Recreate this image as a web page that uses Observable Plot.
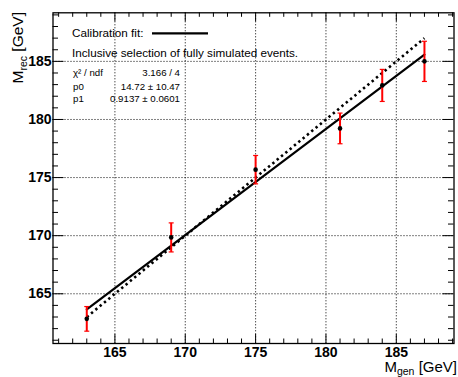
<!DOCTYPE html>
<html><head><meta charset="utf-8">
<script src="https://cdn.jsdelivr.net/npm/d3@7"></script>
<script src="https://cdn.jsdelivr.net/npm/@observablehq/plot@0.6"></script>
<style>body{margin:0;background:#fff} svg{display:block}</style>
</head><body><div id="chart"></div>
<script>
// Data
const mGen = [163, 169, 175, 181, 184, 187];
const mRec = [162.84, 169.85, 175.68, 179.23, 182.93, 185.0];
const mErr = [1.06, 1.25, 1.22, 1.32, 1.38, 1.73];
const fitP0 = 14.72, fitP1 = 0.9137;
const fitRange = [163, 187];
const majorTicks = [165, 170, 175, 180, 185];
const minorTicksX = [161,162,163,164,166,167,168,169,171,172,173,174,176,177,178,179,181,182,183,184,186,187,188,189];
const minorTicksY = [161,162,163,164,166,167,168,169,171,172,173,174,176,177,178,179,181,182,183,184,186,187,188,189];
const statNames = ["\u03c7\u00b2 / ndf", "p0", "p1"];
const statValues = ["3.166 / 4", "14.72 \u00b1 10.47", "0.9137 \u00b1 0.0601"];
const legendLabel = "Calibration fit:";
const legendNote = "Inclusive selection of fully simulated events.";

const points = mGen.map((x, i) => ({x, y: mRec[i], lo: mRec[i] - mErr[i], hi: mRec[i] + mErr[i]}));
const fitLine = fitRange.map(x => ({x, y: fitP0 + fitP1 * x}));
const idealLine = fitRange.map(x => ({x, y: x}));

const W = 458, H = 377, mL = 52.5, mR = 4.5, mT = 12.3, mB = 34;
const pw = W - mL - mR, ph = H - mT - mB;
const font = "'Liberation Sans', Arial, Helvetica, sans-serif";

const capSymbol = {draw(ctx) { ctx.moveTo(-2.5, 0); ctx.lineTo(2.5, 0); }};

const chart = Plot.plot({
  width: W, height: H,
  marginLeft: mL, marginRight: mR, marginTop: mT, marginBottom: mB,
  style: {fontFamily: font, background: "#fff", color: "#000"},
  x: {domain: [160.6, 189.1]},
  y: {domain: [160.72, 189.18]},
  marks: [
    Plot.gridX(majorTicks, {stroke: "#000", strokeOpacity: 1, strokeDasharray: "1,2", strokeWidth: 1}),
    Plot.gridY(majorTicks, {stroke: "#000", strokeOpacity: 1, strokeDasharray: "1,2", strokeWidth: 1}),
    // ticks inside the frame
    Plot.tickX(minorTicksX, {x: d => d, stroke: "#000", insetTop: ph - 4.5}),
    Plot.tickX(majorTicks, {x: d => d, stroke: "#000", insetTop: ph - 9}),
    Plot.tickX(minorTicksX, {x: d => d, stroke: "#000", insetBottom: ph - 4.5}),
    Plot.tickX(majorTicks, {x: d => d, stroke: "#000", insetBottom: ph - 9}),
    Plot.tickY(minorTicksY, {y: d => d, stroke: "#000", insetRight: pw - 5.5}),
    Plot.tickY(majorTicks, {y: d => d, stroke: "#000", insetRight: pw - 11}),
    Plot.tickY(minorTicksY, {y: d => d, stroke: "#000", insetLeft: pw - 5.5}),
    Plot.tickY(majorTicks, {y: d => d, stroke: "#000", insetLeft: pw - 11}),
    Plot.line(idealLine, {x: "x", y: "y", stroke: "#000", strokeWidth: 2.6, strokeDasharray: "2.4,3.2", strokeLinecap: "butt"}),
    Plot.line(fitLine, {x: "x", y: "y", stroke: "#000", strokeWidth: 2.2}),
    Plot.link(points, {x1: "x", x2: "x", y1: "lo", y2: "hi", stroke: "#ff0000", strokeWidth: 2}),
    Plot.dot(points, {x: "x", y: "lo", symbol: capSymbol, stroke: "#ff0000", strokeWidth: 1.2, fill: "none"}),
    Plot.dot(points, {x: "x", y: "hi", symbol: capSymbol, stroke: "#ff0000", strokeWidth: 1.2, fill: "none"}),
    Plot.dot(points, {x: "x", y: "y", r: 2.3, fill: "#000", stroke: "none"}),
    Plot.frame({stroke: "#000", strokeWidth: 1.3}),
    Plot.axisX(majorTicks, {tickSize: 0, tickPadding: 4, label: null, fontSize: 14, fontWeight: "bold", fill: "#000"}),
    Plot.axisY(majorTicks, {tickSize: 0, tickPadding: 1.5, label: null, fontSize: 14, fontWeight: "bold", fill: "#000"})
  ]
});
document.getElementById("chart").appendChild(chart);

// Annotations (titles, legend, stats) as real text
const svg = d3.select(chart);
const g = svg.append("g").attr("font-family", font).attr("fill", "#000").attr("text-anchor", "start");

// X title
const xt = g.append("text").attr("x", 457).attr("y", 372).attr("text-anchor", "end").attr("font-size", 15);
xt.append("tspan").text("M");
xt.append("tspan").attr("font-size", 10.5).attr("dy", 3.2).text("gen");
xt.append("tspan").attr("dy", -3.2).text(" [GeV]");

// Y title
const yt = g.append("text").attr("transform", "translate(23.3,12) rotate(-90)").attr("text-anchor", "end").attr("font-size", 15.5);
yt.append("tspan").text("M");
yt.append("tspan").attr("font-size", 10.5).attr("dy", 4).text("rec");
yt.append("tspan").attr("dy", -4).text(" [GeV]");

// Legend
g.append("text").attr("x", 72).attr("y", 37).attr("font-size", 11.7).attr("text-anchor", "start").text(legendLabel);
g.append("line").attr("x1", 152).attr("x2", 208).attr("y1", 33.3).attr("y2", 33.3).attr("stroke", "#000").attr("stroke-width", 2.2);
g.append("text").attr("x", 72).attr("y", 57).attr("font-size", 11.7).attr("text-anchor", "start").text(legendNote);

// Stats
const statY = [76, 90, 102];
statNames.forEach((s, i) => {
  g.append("text").attr("x", 73).attr("y", statY[i]).attr("font-size", 9.7).attr("text-anchor", "start").text(s);
  g.append("text").attr("x", 180).attr("y", statY[i]).attr("font-size", 9.7).attr("text-anchor", "end").text(statValues[i]);
});
</script>
</body></html>
